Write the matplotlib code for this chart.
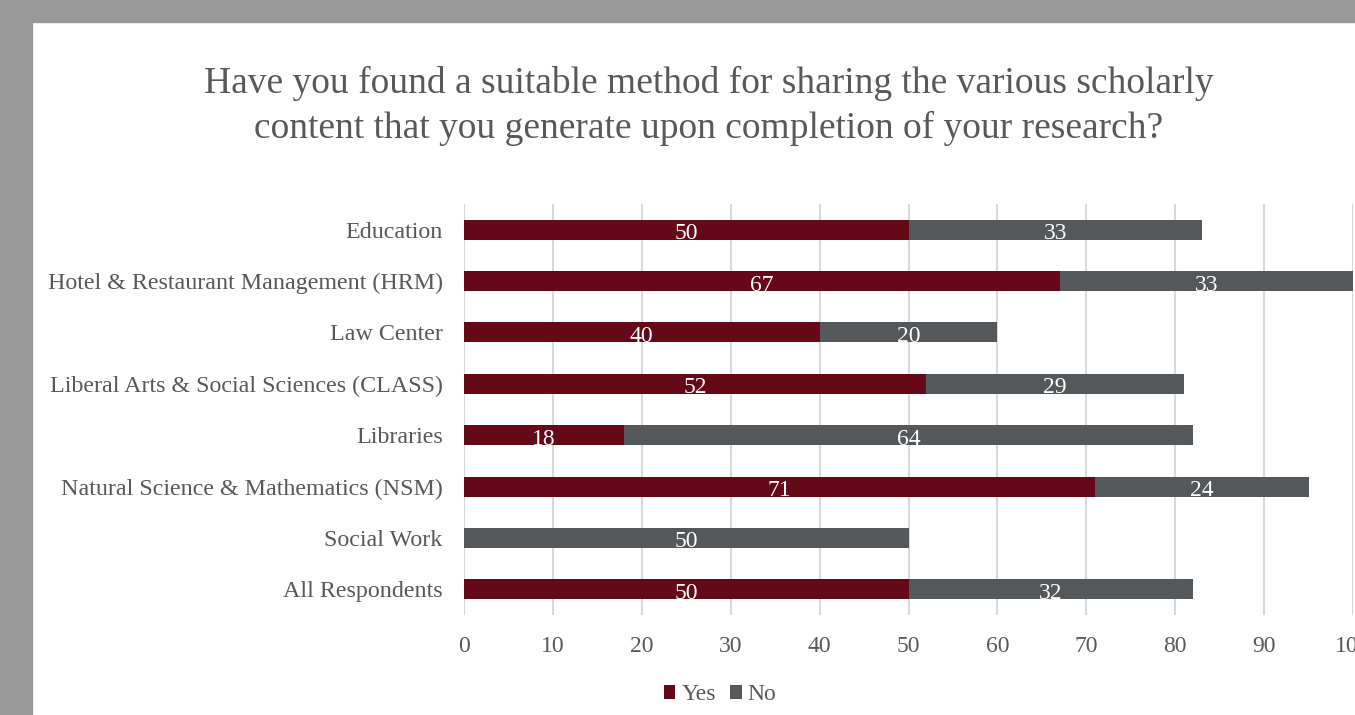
import matplotlib
matplotlib.use("Agg")
import matplotlib.pyplot as plt
from matplotlib.patches import Rectangle
import numpy as np

categories = ["Education", "Hotel & Restaurant Management (HRM)", "Law Center",
              "Liberal Arts & Social Sciences (CLASS)", "Libraries",
              "Natural Science & Mathematics (NSM)", "Social Work", "All Respondents"]
yes_vals = [50, 67, 40, 52, 18, 71, 0, 50]
no_vals = [33, 33, 20, 29, 64, 24, 50, 32]
xticks = [0, 10, 20, 30, 40, 50, 60, 70, 80, 90, 100]
title = "Have you found a suitable method for sharing the various scholarly\ncontent that you generate upon completion of your research?"

YES_C = "#650817"
NO_C = "#54585A"
TXT_C = "#595959"
FONT = "Liberation Serif"

plt.rcParams['font.family'] = [FONT, 'DejaVu Serif']

W, H = 1355, 715
fig = plt.figure(figsize=(W/100, H/100), dpi=100, facecolor="white")

# gray frame
fig.patches.append(Rectangle((0, 0), 32/W, 1, transform=fig.transFigure, color="#999999", zorder=0))
fig.patches.append(Rectangle((0, 1-22/H), 1, 22/H, transform=fig.transFigure, color="#999999", zorder=0))

left, right = 464, 1353
top, bottom = 204, 615
ax = fig.add_axes([left/W, 1-bottom/H, (right-left)/W, (bottom-top)/H])
ax.set_facecolor("none")

y = np.arange(len(categories))
h = 0.39
ax.barh(y, yes_vals, height=h, color=YES_C, label="Yes", zorder=3)
ax.barh(y, no_vals, left=yes_vals, height=h, color=NO_C, label="No", zorder=3)

for i in range(len(categories)):
    if yes_vals[i] > 0:
        ax.text(yes_vals[i]/2, y[i] + 0.03, str(yes_vals[i]), ha="center", va="center_baseline",
                color="white", fontsize=17, zorder=4)
    if no_vals[i] > 0:
        ax.text(yes_vals[i] + no_vals[i]/2, y[i] + 0.03, str(no_vals[i]), ha="center",
                va="center_baseline", color="white", fontsize=17, zorder=4)

ax.set_xlim(0, 100)
ax.set_ylim(len(categories)-0.5, -0.5)
ax.set_yticks(y)
ax.set_yticklabels(categories, fontsize=17.3, color=TXT_C)
ax.set_xticks(xticks)
ax.set_xticklabels([str(t) for t in xticks], fontsize=17, color=TXT_C)
ax.tick_params(axis="y", length=0, pad=15.3)
ax.tick_params(axis="x", length=0, pad=15)
for s in ax.spines.values():
    s.set_visible(False)
ax.grid(axis="x", color="#D9D9D9", linewidth=1.5, zorder=0)
ax.set_axisbelow(True)

fig.text(709/W, 1-106/H, title, ha="center", va="center", fontsize=27,
         color=TXT_C, linespacing=1.35)

fig.legend(loc="center", bbox_to_anchor=(720/W, 1-695/H), ncol=2, frameon=False,
           fontsize=17, handlelength=0.5, handleheight=0.5, handletextpad=0.25,
           columnspacing=0.6, labelcolor=TXT_C)

fig.savefig("out.png", dpi=100, facecolor="white")
